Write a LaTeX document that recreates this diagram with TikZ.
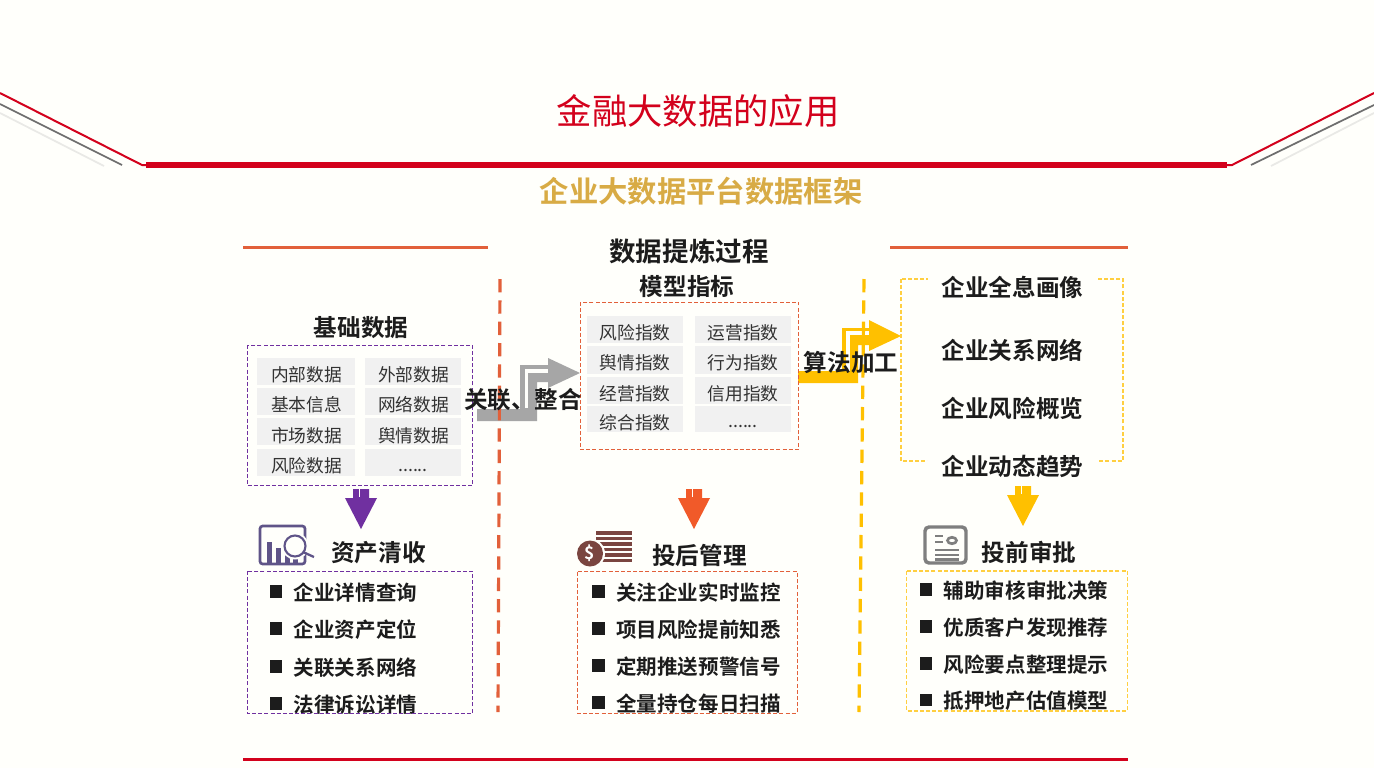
\documentclass[tikz,border=0pt]{standalone}
\usepackage{fontspec}
\setmainfont{Noto Sans CJK SC}[BoldFont={Noto Sans CJK SC Bold}]
\definecolor{bgc}{HTML}{FFFFFB}
\definecolor{redc}{HTML}{D3011C}
\definecolor{greyl}{HTML}{6E6E6E}
\definecolor{paleg}{HTML}{E9E9E6}
\definecolor{goldc}{HTML}{D8AB45}
\definecolor{orgl}{HTML}{E2603A}
\definecolor{orga}{HTML}{F15A29}
\definecolor{yelc}{HTML}{FFC000}
\definecolor{yelb}{HTML}{FFCF40}
\definecolor{purc}{HTML}{7030A0}
\definecolor{inkc}{HTML}{1C1C1C}
\definecolor{cellc}{HTML}{F1F1F1}
\definecolor{arrg}{HTML}{A6A6A6}
\definecolor{icop}{HTML}{5F5488}
\definecolor{icob}{HTML}{7A4540}
\definecolor{icog}{HTML}{7F7F7F}
\tikzset{
 txt/.style={inner sep=0pt,outer sep=0pt,text=inkc,anchor=center},
 head/.style={txt,font=\fontsize{17.7pt}{20pt}\selectfont\bfseries},
 item/.style={txt,yshift=-0.75pt,font=\fontsize{15.4pt}{18pt}\selectfont\bfseries},
 cell/.style={txt,yshift=-0.75pt,font=\fontsize{13.3pt}{16pt}\selectfont,text=black!80},
 bul/.style={fill=inkc,draw=none,minimum size=9.1pt,inner sep=0pt,outer sep=0pt},
 dbox/.style={dashed,line width=0.75pt,dash pattern=on 3pt off 1.6pt},
 ybox/.style={dashed,line width=0.8pt,dash pattern=on 3pt off 1.6pt},
 divider/.style={line width=2.4pt,dash pattern=on 10pt off 6pt},
}
\newcommand{\fatdown}[3]{%
 \fill[#3] ({#1-8},#2) -- ({#1+8},#2) -- ({#1+8},{#2+9}) -- ({#1+16},{#2+9}) -- (#1,{#2+40}) -- ({#1-16},{#2+9}) -- ({#1-8},{#2+9}) -- cycle;
 \fill[bgc] ({#1-2.5},{#2-.5}) rectangle ({#1-1},{#2+8});}
\begin{document}
\begin{tikzpicture}[x=0.75pt,y=-0.75pt]
\useasboundingbox (0,0) rectangle (1374,768);
\fill[bgc] (0,0) rectangle (1374,768);
% header
\fill[redc] (146,162) rectangle (1227,168);
\draw[redc,line width=1.5pt] (0,93) -- (142,165) -- (147,165);
\draw[redc,line width=1.5pt] (1374,93) -- (1232,165) -- (1226,165);
\draw[greyl,line width=1.3pt] (0,104) -- (122,165);
\draw[greyl,line width=1.3pt] (1374,105) -- (1251,165);
\draw[paleg,line width=1.3pt] (0,113) -- (104,166);
\draw[paleg,line width=1.3pt] (1374,113) -- (1271,166);
\node[txt,text=redc,font=\fontsize{26.5pt}{30pt}\selectfont] (title) at (698,111) {金融大数据的应用};
\node[txt,text=goldc,font=\fontsize{22pt}{26pt}\selectfont\bfseries] (subtitle) at (701,191) {企业大数据平台数据框架};
% rules
\fill[orgl] (243,245.5) rectangle (488,248.5);
\fill[orgl] (890,245.5) rectangle (1128,248.5);
\fill[redc] (243,757.5) rectangle (1128,760.5);
\node[txt,font=\fontsize{19.9pt}{24pt}\selectfont\bfseries] (process) at (689,251) {数据提炼过程};
% bent arrows
\fill[arrg] (477,421) -- (537,421) -- (537,382) -- (548,382) -- (548,388) -- (580,373) -- (548,358) -- (548,365) -- (520,365) -- (520,409) -- (477,409) -- cycle;
\draw[bgc,line width=2.6pt] (526.5,408) -- (526.5,371) -- (548,371);
\fill[yelc] (798,383) -- (858,383) -- (858,345) -- (869,345) -- (869,351) -- (901,336) -- (869,320) -- (869,328) -- (842,328) -- (842,371) -- (798,371) -- cycle;
\draw[bgc,line width=2.6pt] (848,371) -- (848,333) -- (869,333);
% dividers
\draw[orgl,divider] (500,279) -- (498,712);
\draw[yelc,divider] (864,279) -- (859,712);
% left table
\node[head] (basehead) at (361,328) {基础数据};
\draw[purc,dbox] (247,345) rectangle (472.5,485.5);
\foreach \a/\b in {358/385,388/415,418/445,449/476}{
 \fill[cellc] (257,\a) rectangle (355,\b);
 \fill[cellc] (365,\a) rectangle (461,\b);}
\foreach \n/\x/\y/\t in {a1/306.5/374/内部数据,a2/413.5/374/外部数据,a3/306.5/404/基本信息,a4/413.5/404/网络数据,a5/306.5/435/市场数据,a6/413.5/435/舆情数据,a7/306.5/465/风险数据}{
 \node[cell] (\n) at (\x,\y) {\t};}
\node[cell] (a8) at (413,469) {......};
% middle table
\node[head] (modelhead) at (687,287) {模型指标};
\draw[orgl,dbox] (580,302) rectangle (798.5,449);
\foreach \a/\b in {316/343,346/374,377/404,406/432}{
 \fill[cellc] (587,\a) rectangle (683,\b);
 \fill[cellc] (695,\a) rectangle (791,\b);}
\foreach \n/\x/\y/\t in {b1/635/332/风险指数,b2/743/332/运营指数,b3/635/362/舆情指数,b4/743/362/行为指数,b5/635/393/经营指数,b6/743/393/信用指数,b7/635/422/综合指数}{
 \node[cell] (\n) at (\x,\y) {\t};}
\node[cell] (b8) at (743,425.5) {......};
% right box
\draw[yelb,ybox] (901,279) rectangle (1123,461);
\foreach \n/\y/\t in {c1/287/企业全息画像,c2/350.5/企业关系网络,c3/408/企业风险概览,c4/466/企业动态趋势}{
 \node[head,fill=bgc,minimum width=127.5pt,minimum height=20pt] (\n) at (1012.5,\y) {\t};}
% arrow labels
\node[head] (link) at (523,400) {关联、整合};
\node[head] (algo) at (851,362) {算法加工};
% down arrows
\fatdown{361}{489}{purc}
\fatdown{694}{489}{orga}
\fatdown{1023}{486}{yelc}
% section heads
\node[head] (s1) at (378.5,553) {资产清收};
\node[head] (s2) at (699.5,555) {投后管理};
\node[head] (s3) at (1029,552.5) {投前审批};
% boxes with clipped lists
\begin{scope}
\clip (240,565) rectangle (480,713.5);
\foreach \n/\y/\t in {d1/592/企业详情查询,d2/629/企业资产定位,d3/667/关联关系网络,d4/704/法律诉讼详情}{
 \node[item] (\n) at (355.5,\y) {\t};
 \node[bul] (\n b) at (276,\y-0.5) {};}
\end{scope}
\draw[purc,dbox] (247,571) rectangle (472.5,713);
\begin{scope}
\clip (570,565) rectangle (800,713.5);
\foreach \n/\y/\t in {e1/592/关注企业实时监控,e2/629/项目风险提前知悉,e3/666/定期推送预警信号,e4/703/全量持仓每日扫描}{
 \node[item] (\n) at (698.5,\y) {\t};
 \node[bul] (\n b) at (598.5,\y-0.5) {};}
\end{scope}
\draw[orgl,dbox] (577.5,571.5) rectangle (797,713);
\begin{scope}
\clip (900,565) rectangle (1135,711.5);
\foreach \n/\y/\t in {f1/589.5/辅助审核审批决策,f2/626.5/优质客户发现推荐,f3/663.5/风险要点整理提示,f4/700/抵押地产估值模型}{
 \node[item] (\n) at (1026,\y) {\t};
 \node[bul] (\n b) at (926,\y) {};}
\end{scope}
\draw[yelb,ybox] (906.5,571) rectangle (1127.5,711);
% icon 1
\draw[icop,line width=2pt,rounded corners=2pt] (260,526) rectangle (305,564);
\foreach \x/\y in {267/542,276/548,285/555,293/558}{\fill[icop] (\x,\y) rectangle (\x+4.5,564);}
\fill[bgc] (295,546) circle[radius=13.5*0.75pt];
\draw[icop,line width=1.6pt] (295,546) circle[radius=10.5*0.75pt];
\draw[icop,line width=1.7pt] (303,552) -- (314,557);
% icon 2
\foreach \y in {533,538.5,544,549.5,555,560.5}{\draw[icob,line width=2.6pt] (596,\y) -- (632,\y);}
\fill[bgc] (590,553.5) circle[radius=15*0.75pt];
\fill[icob] (590,553.5) circle[radius=13*0.75pt];
\node[txt,text=white,font=\fontsize{13pt}{14pt}\selectfont\bfseries] (dollar) at (590,553.5) {\$};
% icon 3
\draw[icog,line width=2.6pt,rounded corners=3pt] (925,527) rectangle (966,563);
\foreach \y in {536,542}{\draw[icog,line width=2pt] (935,\y) -- (943,\y);}
\draw[icog,line width=2pt] (952,540.5) ellipse[x radius=4.5*0.75pt,y radius=3.2*0.75pt];
\foreach \y in {550,555,559.5}{\draw[icog,line width=1.8pt] (935,\y) -- (959,\y);}
\end{tikzpicture}
\end{document}
